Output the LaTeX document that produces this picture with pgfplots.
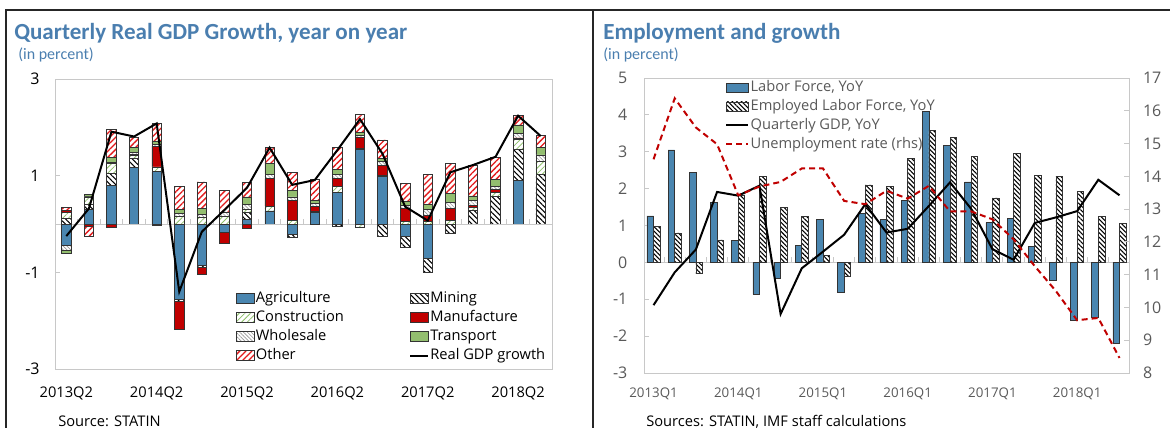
\documentclass[border=0pt]{standalone}
\usepackage{pgfplots}
\pgfplotsset{compat=1.18}
\usepackage{pgfplotstable}
\usetikzlibrary{patterns.meta}
\usepackage{fontspec}
\setmainfont{Open Sans}
\newfontfamily\titlefont{Carlito}

\definecolor{agri}{HTML}{4A86B0}
\definecolor{manuf}{HTML}{C00000}
\definecolor{transp}{HTML}{93BE6F}
\definecolor{constr}{HTML}{8CBF68}
\definecolor{otherred}{HTML}{E31A1C}
\definecolor{titleblue}{HTML}{4A7EAF}
\definecolor{frame}{HTML}{C8C8C8}

\tikzset{
  barline/.style={draw=black!80, line width=0.5pt},
  agristyle/.style={barline, fill=agri},
  miningstyle/.style={barline, fill=white, postaction={pattern={Lines[angle=-45,distance=2.8pt,line width=0.8pt]}, pattern color=black}},
  constrstyle/.style={barline, fill=white, postaction={pattern={Lines[angle=45,distance=3pt,line width=0.6pt]}, pattern color=constr}},
  manufstyle/.style={barline, fill=manuf},
  wholestyle/.style={barline, fill=white, postaction={pattern={Lines[angle=-45,distance=2pt,line width=0.45pt]}, pattern color=black!40}},
  transpstyle/.style={barline, fill=transp},
  otherstyle/.style={barline, fill=white, postaction={pattern={Lines[angle=45,distance=3.2pt,line width=1pt]}, pattern color=otherred}},
  empstyle/.style={barline, fill=white, postaction={pattern={Lines[angle=-45,distance=2.4pt,line width=0.8pt]}, pattern color=black}},
}

% contributions to real GDP growth, 2013Q2 .. 2018Q3
\pgfplotstableread{
x agri mining constr manuf whole transp other gdp
0 -0.45 0.12 0.12 0.04 -0.09 -0.07 0.07 -0.25
1 0.30 0.11 0.15 -0.05 0.01 0.05 -0.21 0.32
2 0.79 0.26 0.20 -0.07 0.02 0.10 0.59 1.91
3 1.17 0.19 0.06 0.02 0.04 0.10 0.21 1.81
4 1.08 -0.02 0.10 0.43 0.04 0.07 0.36 2.08
5 -1.55 -0.04 0.15 -0.59 0.07 0.08 0.47 -1.40
6 -0.85 -0.05 0.14 -0.15 0.06 0.12 0.55 -0.16
7 -0.18 0.00 0.15 -0.22 0.10 0.00 0.44 0.29
8 0.10 0.14 0.06 -0.09 0.10 0.16 0.30 0.75
9 0.27 0.00 0.10 0.57 0.09 0.22 0.34 1.58
10 -0.22 -0.05 0.08 0.41 0.07 0.13 0.37 0.81
11 0.24 -0.01 0.02 0.10 0.06 0.07 0.43 0.91
12 0.65 -0.04 0.12 0.17 0.09 0.10 0.45 1.53
13 1.54 0.03 -0.07 0.22 0.04 0.07 0.36 2.17
14 0.98 -0.26 0.03 0.21 0.07 0.07 0.38 1.45
15 -0.25 -0.23 0.05 0.28 0.05 0.08 0.38 0.36
16 -0.71 -0.28 0.05 0.12 0.14 0.09 0.62 0.07
17 0.00 -0.19 0.07 0.26 0.12 0.18 0.63 1.07
18 0.00 0.29 0.06 0.03 0.10 0.10 0.64 1.22
19 0.00 0.57 0.09 0.05 0.06 0.15 0.46 1.39
20 0.91 0.63 0.21 0.03 0.10 0.17 0.19 2.24
21 0.00 1.03 0.26 0.00 0.14 0.16 0.25 1.82
}\gdptab

% labour market, 2013Q1 .. 2018Q3
\pgfplotstableread{
x lf emp gdp unemp
0 1.26 0.97 -1.16 14.52
1 3.05 0.80 -0.27 16.38
2 2.44 -0.31 0.35 15.49
3 1.62 0.61 1.91 14.98
4 0.59 1.83 1.81 13.42
5 -0.87 2.33 2.08 13.69
6 -0.43 1.50 -1.40 13.83
7 0.45 1.24 -0.16 14.24
8 1.17 0.18 0.29 14.24
9 -0.82 -0.37 0.75 13.25
10 1.32 2.10 1.58 13.15
11 1.17 2.05 0.81 13.56
12 1.67 2.82 0.91 13.32
13 4.09 3.57 1.53 13.71
14 3.17 3.39 2.17 12.93
15 2.18 2.87 1.45 12.93
16 1.08 1.75 0.36 12.69
17 1.19 2.95 0.07 12.08
18 0.44 2.35 1.07 11.26
19 -0.49 2.33 1.22 10.50
20 -1.58 1.92 1.39 9.61
21 -1.50 1.24 2.24 9.68
22 -2.20 1.06 1.82 8.46
}\emptab

\pgfplotsset{
  lax/.style={width=372.75pt, height=217.5pt, scale only axis,
    at={(41.25pt,-276.75pt)}, anchor=south west,
    xmin=-0.5, xmax=21.5, ymin=-3, ymax=3},
  rax/.style={width=363.75pt, height=221.25pt, scale only axis,
    at={(483pt,-279.75pt)}, anchor=south west,
    xmin=-0.45, xmax=22.45},
  boxL/.style={legend image code/.code={\draw[##1] (0pt,-3.75pt) rectangle (13.3pt,3.75pt);}},
  lineL/.style={legend image code/.code={\draw[##1] (0pt,0pt) -- (13.3pt,0pt);}},
  boxR/.style={legend image code/.code={\draw[##1] (0pt,-3.4pt) rectangle (16.5pt,3.4pt);}},
  lineR/.style={legend image code/.code={\draw[##1] (0pt,0pt) -- (16.5pt,0pt);}},
}

\begin{document}
\begin{tikzpicture}
\useasboundingbox (0,0) rectangle (877.5pt,-321pt);

% panel frames
\draw[line width=1.1pt, black!85] (4.5pt,-340pt) -- (4.5pt,-7.5pt) -- (890pt,-7.5pt);
\draw[line width=1.1pt, black!85] (444.75pt,-7.5pt) -- (444.75pt,-340pt);

% titles
\node[anchor=base west, inner sep=0pt, text=titleblue, font=\titlefont\bfseries\fontsize{17.3}{20}\selectfont] at (10.5pt,-30pt) {Quarterly Real GDP Growth, year on year};
\node[anchor=base west, inner sep=0pt, text=titleblue, font=\titlefont\fontsize{12}{14}\selectfont] at (13.5pt,-45pt) {(in percent)};
\node[anchor=base west, inner sep=0pt, text=titleblue, font=\titlefont\bfseries\fontsize{17.3}{20}\selectfont] at (452.25pt,-29.5pt) {Employment and growth};
\node[anchor=base west, inner sep=0pt, text=titleblue, font=\titlefont\fontsize{12}{14}\selectfont] at (452.25pt,-44.5pt) {(in percent)};
\node[anchor=base west, inner sep=0pt, font=\fontsize{11}{13}\selectfont] at (43.5pt,-319.5pt) {Source: STATIN};
\node[anchor=base west, inner sep=0pt, font=\fontsize{11}{13}\selectfont] at (484.5pt,-319.5pt) {Sources: STATIN, IMF staff calculations};

% ---- left panel: positive contributions
\begin{axis}[lax, ybar stacked, bar width=0.42,
  ytick={-3,-1,1,3}, xtick={0,4,8,12,16,20},
  xticklabels={2013Q2,2014Q2,2015Q2,2016Q2,2017Q2,2018Q2},
  axis line style={draw=frame, line width=0.75pt},
  tick align=inside, ytick pos=left, major tick length=4pt,
  xtick style={draw=none}, ytick style={draw=frame, line width=0.75pt},
  /pgf/number format/assume math mode=true,
  xticklabel style={font=\fontsize{11}{13}\selectfont, yshift=-9.5pt},
  yticklabel style={font=\fontsize{12}{14}\selectfont, xshift=-8pt},
]
\draw[frame, line width=0.75pt] (axis cs:-0.5,0) -- (axis cs:21.5,0);
\pgfplotsinvokeforeach{0,...,20}{\draw[frame, line width=0.75pt] (axis cs:#1+0.5,0) -- ++(0pt,4pt);}
\addplot[agristyle] table[x=x, y expr={max(\thisrow{agri},0)}] {\gdptab};
\addplot[miningstyle] table[x=x, y expr={max(\thisrow{mining},0)}] {\gdptab};
\addplot[constrstyle] table[x=x, y expr={max(\thisrow{constr},0)}] {\gdptab};
\addplot[manufstyle] table[x=x, y expr={max(\thisrow{manuf},0)}] {\gdptab};
\addplot[wholestyle] table[x=x, y expr={max(\thisrow{whole},0)}] {\gdptab};
\addplot[transpstyle] table[x=x, y expr={max(\thisrow{transp},0)}] {\gdptab};
\addplot[otherstyle] table[x=x, y expr={max(\thisrow{other},0)}] {\gdptab};
\end{axis}

% ---- left panel: negative contributions
\begin{axis}[lax, hide axis, ybar stacked, bar width=0.42]
\addplot[agristyle] table[x=x, y expr={min(\thisrow{agri},0)}] {\gdptab};
\addplot[miningstyle] table[x=x, y expr={min(\thisrow{mining},0)}] {\gdptab};
\addplot[constrstyle] table[x=x, y expr={min(\thisrow{constr},0)}] {\gdptab};
\addplot[manufstyle] table[x=x, y expr={min(\thisrow{manuf},0)}] {\gdptab};
\addplot[wholestyle] table[x=x, y expr={min(\thisrow{whole},0)}] {\gdptab};
\addplot[transpstyle] table[x=x, y expr={min(\thisrow{transp},0)}] {\gdptab};
\addplot[otherstyle] table[x=x, y expr={min(\thisrow{other},0)}] {\gdptab};
\end{axis}

% ---- left panel: GDP line and legend
\begin{axis}[lax, hide axis,
  legend columns=2, legend cell align=left,
  legend style={at={(axis description cs:0.364,0.269)}, anchor=north west,
    draw=none, fill=none, inner sep=0pt, row sep=3.25pt,
    font=\fontsize{11}{13}\selectfont,
    nodes={inner xsep=1pt, inner ysep=0pt, text height=8.5pt, text depth=2.5pt},
    /tikz/every even column/.append style={column sep=48pt}},
]
\addlegendimage{boxL, agristyle} \addlegendentry{Agriculture}
\addlegendimage{boxL, miningstyle} \addlegendentry{Mining}
\addlegendimage{boxL, constrstyle} \addlegendentry{Construction}
\addlegendimage{boxL, manufstyle} \addlegendentry{Manufacture}
\addlegendimage{boxL, wholestyle} \addlegendentry{Wholesale}
\addlegendimage{boxL, transpstyle} \addlegendentry{Transport}
\addlegendimage{boxL, otherstyle} \addlegendentry{Other}
\addplot[lineL, black, line width=1.5pt] table[x=x, y=gdp] {\gdptab};
\addlegendentry{Real GDP growth}
\end{axis}

% ---- right panel: bars and GDP
\begin{axis}[rax, ymin=-3, ymax=5, ytick={-3,...,5},
  xtick={0,4,8,12,16,20},
  xticklabels={2013Q1,2014Q1,2015Q1,2016Q1,2017Q1,2018Q1},
  axis line style={draw=frame, line width=0.75pt},
  tick align=inside, ytick pos=left, major tick length=4pt,
  xtick style={draw=none}, ytick style={draw=frame, line width=0.75pt},
  /pgf/number format/assume math mode=true,
  every tick label/.append style={text=black!65},
  xticklabel style={font=\fontsize{10}{12}\selectfont, yshift=-7.5pt},
  yticklabel style={font=\fontsize{12}{14}\selectfont, xshift=-9pt},
]
\draw[frame, line width=0.75pt] (axis cs:-0.45,0) -- (axis cs:22.45,0);
\pgfplotsinvokeforeach{0,...,21}{\draw[frame, line width=0.75pt] (axis cs:#1+0.5,0) -- ++(0pt,4pt);}
\addplot[ybar, bar width=0.31, bar shift=-0.155, agristyle] table[x=x, y=lf] {\emptab};
\addplot[ybar, bar width=0.31, bar shift=0.155, empstyle] table[x=x, y=emp] {\emptab};
\addplot[black, line width=1.5pt] table[x=x, y=gdp] {\emptab};
\end{axis}

% ---- right panel: unemployment (rhs) and legend
\begin{axis}[rax, ymin=8, ymax=17, ytick={8,...,17},
  axis y line*=right, axis x line=none,
  axis line style={draw=frame, line width=0.75pt},
  tick align=inside, major tick length=4pt,
  ytick style={draw=frame, line width=0.75pt},
  /pgf/number format/assume math mode=true,
  yticklabel style={font=\fontsize{12}{14}\selectfont, text=black!65, xshift=7pt},
  legend cell align=left,
  legend style={at={(axis description cs:0.167,0.994)}, anchor=north west,
    draw=none, fill=none, inner sep=0pt, row sep=3.25pt,
    font=\fontsize{11}{13}\selectfont,
    nodes={inner xsep=1pt, inner ysep=0pt, text height=8.5pt, text depth=2.5pt, text=black!65}},
]
\addlegendimage{boxR, agristyle} \addlegendentry{Labor Force, YoY}
\addlegendimage{boxR, empstyle} \addlegendentry{Employed Labor Force, YoY}
\addlegendimage{lineR, black, line width=1.5pt} \addlegendentry{Quarterly GDP, YoY}
\addplot[lineR, manuf, line width=1.5pt, dash pattern=on 4.5pt off 3pt] table[x=x, y=unemp] {\emptab};
\addlegendentry{Unemployment rate (rhs)}
\end{axis}
\end{tikzpicture}
\end{document}
